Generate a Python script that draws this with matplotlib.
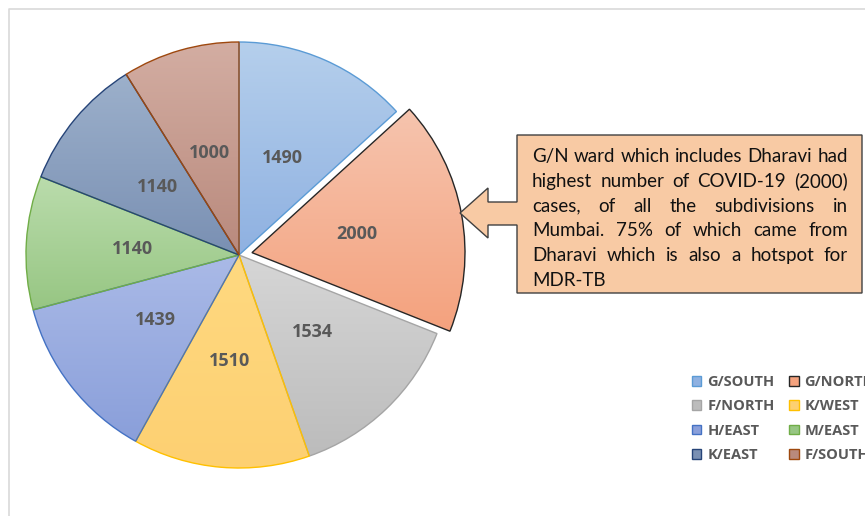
import numpy as np
import matplotlib
matplotlib.use("Agg")
import matplotlib.pyplot as plt
from matplotlib.patches import Polygon
from matplotlib.colors import to_rgb

# data
wards = ["G/SOUTH", "G/NORTH", "F/NORTH", "K/WEST", "H/EAST", "M/EAST", "K/EAST", "F/SOUTH"]
cases = [1490, 2000, 1534, 1510, 1439, 1140, 1140, 1000]
explode_frac = [0, 0.062, 0, 0, 0, 0, 0, 0]

# gradient top / bottom and outline colours per slice
top_cols = ["#b5cfec", "#f6c4ae", "#d6d6d6", "#ffd980", "#aabae7", "#badcac", "#9cb0cb", "#d3ada2"]
bot_cols = ["#8fb1e1", "#f4a27e", "#bcbcbc", "#fdd072", "#8a9fda", "#97c683", "#7a90b3", "#b98a7d"]
edge_cols = ["#5b9bd5", "#262626", "#a5a5a5", "#ffc000", "#4472c4", "#70ad47", "#264478", "#9e480e"]

note_lines = [
    "G/N ward which includes Dharavi had",
    "highest number of COVID-19 (2000)",
    "cases, of all the subdivisions in",
    "Mumbai. 75% of which came from",
    "Dharavi which is also a hotspot for",
    "MDR-TB",
]

W, H = 865, 516
R = 213
fig = plt.figure(figsize=(W / 100, H / 100), dpi=100)
ax = fig.add_axes([0, 0, 1, 1])

# pie explode is in data units, so scale by the radius
wedges, _, autotexts = ax.pie(
    cases, explode=[e * R for e in explode_frac], startangle=90, counterclock=False,
    center=(239, 261), radius=R, colors=bot_cols,
    autopct=lambda p: f"{p * sum(cases) / 100:.0f}", pctdistance=0.5,
    wedgeprops=dict(linewidth=1.0), textprops=dict(color="#595959", fontsize=13,
                                                   fontweight="bold", family="Open Sans"),
)
ax.set_xlim(0, W)
ax.set_ylim(0, H)
ax.axis("off")

for w, ec in zip(wedges, edge_cols):
    w.set_edgecolor(ec)

# legend (row-wise order like the original)
order = [0, 2, 4, 6, 1, 3, 5, 7]
leg = fig.legend([wedges[i] for i in order], [wards[i] for i in order], ncol=2,
                 loc="upper left", bbox_to_anchor=(692 / W, 1 - 375 / H), frameon=False,
                 prop=dict(family="Open Sans", weight="bold", size=10.5),
                 handlelength=0.65, handleheight=0.65, handletextpad=0.4,
                 labelspacing=0.71, columnspacing=1.0, borderpad=0, borderaxespad=0)
for t in leg.get_texts():
    t.set_color("#595959")

# gradient fill clipped to each wedge
for w, c1, c2 in zip(wedges, top_cols, bot_cols):
    bb = w.get_path().get_extents(w.get_patch_transform())
    a, b = np.array(to_rgb(c1)), np.array(to_rgb(c2))
    t = np.linspace(0, 1, 64)[:, None]
    grad = (a * (1 - t) + b * t)[:, None, :]
    im = ax.imshow(grad, extent=(bb.x0, bb.x1, bb.y0, bb.y1), origin="upper",
                   aspect="auto", zorder=w.get_zorder() + 0.01, interpolation="bilinear")
    im.set_clip_path(w)
    w.set_facecolor("none")
    w.set_zorder(w.get_zorder() + 0.02)
ax.set_xlim(0, W)
ax.set_ylim(0, H)
for t in autotexts:
    t.set_zorder(5)

# outer chart border
ax.plot([9, 9, W + 5], [-5, H - 9, H - 9], color="#d9d9d9", lw=1.2, zorder=0)

# callout box with arrow
bx0, bx1, by0, by1 = 517, 862, H - 293, H - 135
tipx, tipy = 460, H - 213
callout = Polygon([(bx0, by1), (bx1, by1), (bx1, by0), (bx0, by0),
                   (bx0, H - 225), (488, H - 225), (488, H - 238), (tipx, tipy),
                   (488, H - 188), (488, H - 202), (bx0, H - 202)],
                  closed=True, facecolor="#f8caa4", edgecolor="#404040", lw=1.0, zorder=6)
ax.add_patch(callout)

# justified text; font size chosen so the first line nearly fills the box
left, right = 532, 848
fig.canvas.draw()
r = fig.canvas.get_renderer()
probe = ax.text(0, 0, note_lines[0], fontsize=10, family="Lato")
fs = 10 * 312 / probe.get_window_extent(r).width
probe.remove()
for i, line in enumerate(note_lines):
    y = H - (156 + 24.8 * i) - 6
    words = line.split(" ")
    objs = [ax.text(0, y, wd, fontsize=fs, family="Lato", color="#111111",
                    va="baseline", ha="left", zorder=7) for wd in words]
    widths = [o.get_window_extent(r).width for o in objs]
    if i < len(note_lines) - 1 and len(words) > 1:
        gap = (right - left - sum(widths)) / (len(words) - 1)
    else:
        gap = fs * 0.35
    x = left
    for o, wd in zip(objs, widths):
        o.set_x(x)
        x += wd + gap

fig.savefig("out.png", dpi=100)
